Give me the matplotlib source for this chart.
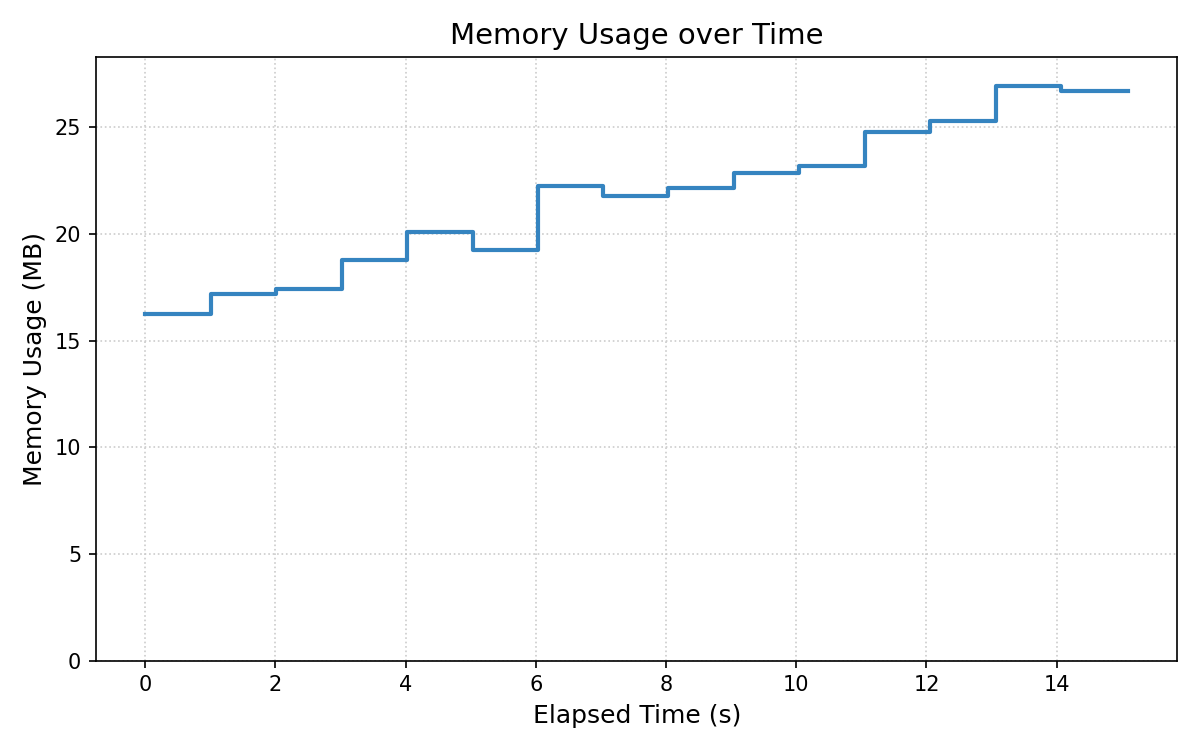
import numpy as np
import matplotlib.pyplot as plt

# elapsed time (s) at each sample and memory usage (MB)
elapsed = [0.0, 1.015, 2.015, 3.03, 4.02, 5.04, 6.04, 7.04, 8.03,
           9.05, 10.05, 11.06, 12.06, 13.07, 14.07, 15.10]
memory_mb = [16.26, 17.20, 17.44, 18.80, 20.08, 19.27, 22.24, 21.77, 22.15,
             22.85, 23.18, 24.79, 25.30, 26.95, 26.72, 26.72]


def plotMemory(t, mem):
    fig, ax = plt.subplots(figsize=(8, 5), dpi=150)
    ax.step(t, mem, where='post', color='#3584c0', linewidth=2)
    ax.set_ylim(0, max(mem) * 1.05)
    ax.grid(True, linestyle=':', color='#cccccc', linewidth=0.8)
    ax.set_xlabel('Elapsed Time (s)', fontsize=12)
    ax.set_ylabel('Memory Usage (MB)', fontsize=12)
    ax.set_title('Memory Usage over Time', fontsize=14)
    fig.tight_layout()
    fig.savefig('out.png')


if __name__ == "__main__":
    plotMemory(elapsed, memory_mb)
